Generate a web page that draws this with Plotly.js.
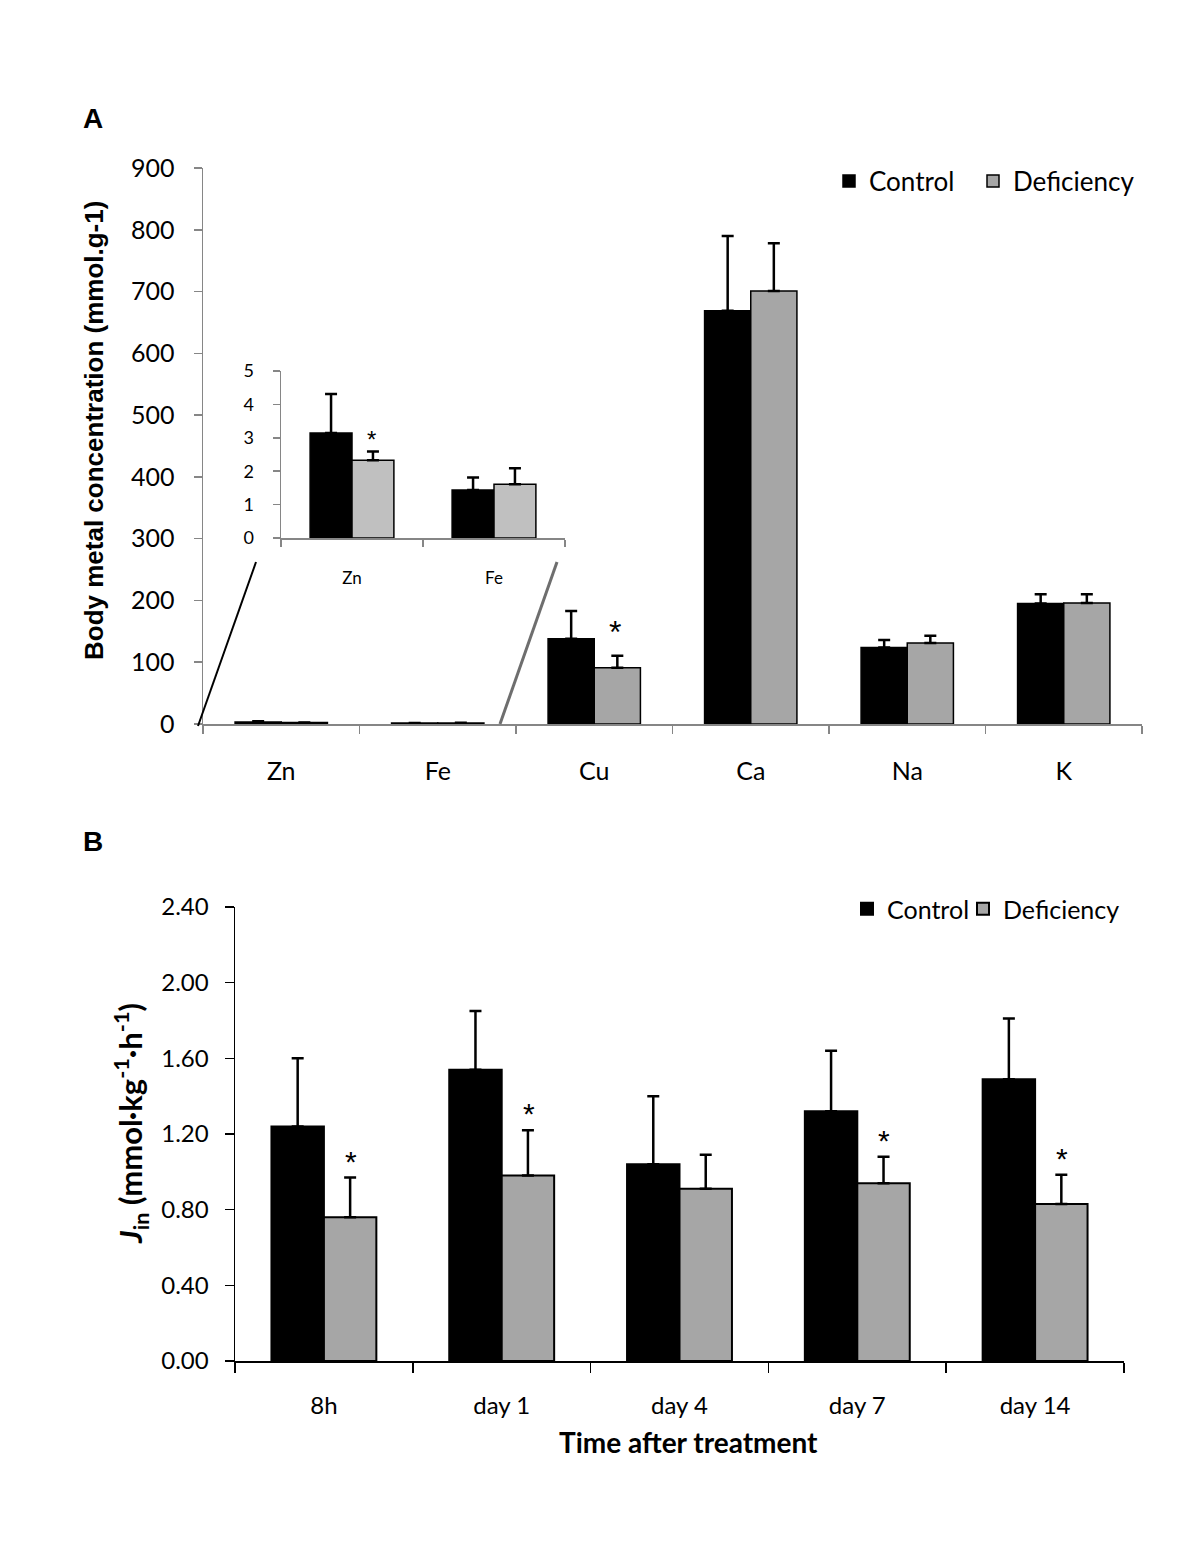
<!DOCTYPE html>
<html><head><meta charset="utf-8">
<script src="https://cdn.plot.ly/plotly-3.0.1.min.js"></script>
<style>html,body{margin:0;padding:0;background:#fff}#chart{width:1200px;height:1553px}</style>
</head><body><div id="chart"></div>
<script>
// ---------- Panel A data ----------
const elementsA = ['Zn', 'Fe', 'Cu', 'Ca', 'Na', 'K'];
const controlA = [3.14, 1.44, 138, 669, 124, 195];
const controlAErr = [1.17, 0.37, 45, 121, 12, 15];
const deficiencyA = [2.33, 1.61, 91, 701, 131, 196];
const deficiencyAErr = [0.26, 0.48, 19.5, 77, 12, 14];
const insetElements = ['Zn', 'Fe'];
const sigA = ['Cu'];
const sigInset = ['Zn'];

// ---------- Panel B data ----------
const timesB = ['8h', 'day 1', 'day 4', 'day 7', 'day 14'];
const controlB = [1.24, 1.54, 1.04, 1.32, 1.49];
const controlBErr = [0.36, 0.31, 0.36, 0.32, 0.32];
const deficiencyB = [0.76, 0.98, 0.91, 0.94, 0.83];
const deficiencyBErr = [0.21, 0.24, 0.18, 0.14, 0.155];
const sigB = ['8h', 'day 1', 'day 7', 'day 14'];

// ---------- helpers (layout only) ----------
const W = 1200, H = 1553;
const px = x => x / W;
const py = y => 1 - y / H;
const TXT = 'Lato, Carlito, "Open Sans", sans-serif';
const BOLD = '"Liberation Sans", Arial, sans-serif';
const STAR = '"Liberation Sans", Arial, sans-serif';
const BLACK = '#000000', GREY = '#a6a6a6', GREY_INSET = '#c0c0c0', AXGREY = '#868686';

const inset = (arr) => insetElements.map(e => arr[elementsA.indexOf(e)]);

function errBar(arr) {
  return {type: 'data', array: arr, symmetric: false, color: '#000', thickness: 2.5, width: 6, visible: true};
}

const traces = [
  // Panel A main
  {type: 'bar', name: 'Control', x: elementsA, y: controlA, error_y: errBar(controlAErr), legendwidth: 99,
   marker: {color: BLACK, line: {color: '#000', width: 1.5}}, xaxis: 'x', yaxis: 'y', legend: 'legend'},
  {type: 'bar', name: 'Deficiency', x: elementsA, y: deficiencyA, error_y: errBar(deficiencyAErr),
   marker: {color: GREY, line: {color: '#000', width: 1.5}}, xaxis: 'x', yaxis: 'y', legend: 'legend'},
  // Inset
  {type: 'bar', name: 'Control', x: insetElements, y: inset(controlA), error_y: errBar(inset(controlAErr)),
   marker: {color: BLACK, line: {color: '#000', width: 1.5}}, xaxis: 'x3', yaxis: 'y3', showlegend: false},
  {type: 'bar', name: 'Deficiency', x: insetElements, y: inset(deficiencyA), error_y: errBar(inset(deficiencyAErr)),
   marker: {color: GREY_INSET, line: {color: '#000', width: 1.5}}, xaxis: 'x3', yaxis: 'y3', showlegend: false},
  // Panel B
  {type: 'bar', name: 'Control', x: timesB, y: controlB, error_y: errBar(controlBErr), legendwidth: 71,
   marker: {color: BLACK, line: {color: '#000', width: 2}}, xaxis: 'x2', yaxis: 'y2', legend: 'legend2'},
  {type: 'bar', name: 'Deficiency', x: timesB, y: deficiencyB, error_y: errBar(deficiencyBErr),
   marker: {color: GREY, line: {color: '#000', width: 2}}, xaxis: 'x2', yaxis: 'y2', legend: 'legend2'}
];

const annotations = [
  {text: '<b>A</b>', x: px(93), y: py(119), xref: 'paper', yref: 'paper', showarrow: false,
   xanchor: 'center', yanchor: 'middle', font: {family: BOLD, size: 28, color: '#000'}},
  {text: '<b>B</b>', x: px(93), y: py(842), xref: 'paper', yref: 'paper', showarrow: false,
   xanchor: 'center', yanchor: 'middle', font: {family: BOLD, size: 28, color: '#000'}},
  {text: '<b>Body metal concentration (mmol.g-1)</b>', x: px(94), y: py(431), xref: 'paper', yref: 'paper',
   xanchor: 'center', yanchor: 'middle',
   textangle: -90, showarrow: false, font: {family: BOLD, size: 26, color: '#000'}},
  {text: '<b><i>J</i><sub>in</sub> (mmol·kg<sup>-1</sup>·h<sup>-1</sup>)</b>', x: px(131), y: py(1124), xref: 'paper', yref: 'paper',
   xanchor: 'center', yanchor: 'middle',
   textangle: -90, showarrow: false, font: {family: TXT, size: 31, color: '#000'}},
  {text: '<b>Time after treatment</b>', x: px(688), y: py(1442), xref: 'paper', yref: 'paper',
   xanchor: 'center', yanchor: 'middle', showarrow: false, font: {family: TXT, size: 28, color: '#000'}}
];

sigA.forEach(c => {
  const i = elementsA.indexOf(c);
  annotations.push({text: '*', x: c, y: deficiencyA[i] + deficiencyAErr[i], xref: 'x', yref: 'y',
    xshift: 21, yshift: 4, yanchor: 'bottom', showarrow: false, font: {family: STAR, size: 32, color: '#000'}});
});
sigInset.forEach(c => {
  const i = elementsA.indexOf(c);
  annotations.push({text: '*', x: c, y: deficiencyA[i] + deficiencyAErr[i], xref: 'x3', yref: 'y3',
    xshift: 19, yshift: -4, yanchor: 'bottom', showarrow: false, font: {family: STAR, size: 24, color: '#000'}});
});
sigB.forEach(c => {
  const i = timesB.indexOf(c);
  annotations.push({text: '*', x: c, y: deficiencyB[i] + deficiencyBErr[i], xref: 'x2', yref: 'y2',
    xshift: 27, yshift: -2, yanchor: 'bottom', showarrow: false, font: {family: STAR, size: 30, color: '#000'}});
});

const shapes = [
  {type: 'line', xref: 'paper', yref: 'paper', x0: px(198), y0: py(726), x1: px(256), y1: py(562),
   line: {color: '#000', width: 2}},
  {type: 'line', xref: 'paper', yref: 'paper', x0: px(500), y0: py(724), x1: px(557), y1: py(562),
   line: {color: '#6e6e6e', width: 3}}
];

const layout = {
  width: W, height: H,
  margin: {l: 0, r: 0, t: 0, b: 0},
  paper_bgcolor: '#fff', plot_bgcolor: 'rgba(0,0,0,0)',
  barmode: 'group', bargap: 0.41, bargroupgap: 0,
  font: {family: TXT, color: '#000'},
  xaxis: {domain: [px(203), px(1142)], anchor: 'y', type: 'category', tickson: 'boundaries',
    showline: true, linecolor: AXGREY, linewidth: 1.5, ticks: 'outside', ticklen: 8, tickcolor: AXGREY, tickwidth: 1.5,
    showgrid: false, zeroline: false, ticklabelstandoff: 24, tickfont: {family: TXT, size: 25, color: '#000'}},
  yaxis: {domain: [py(724), py(168)], anchor: 'x', range: [0, 900], dtick: 100,
    showline: true, linecolor: AXGREY, linewidth: 1.5, ticks: 'outside', ticklen: 8, tickcolor: AXGREY, tickwidth: 1.5,
    showgrid: false, zeroline: false, ticklabelstandoff: 14, tickfont: {family: TXT, size: 25, color: '#000'}},
  xaxis3: {domain: [px(281), px(565)], anchor: 'y3', type: 'category', tickson: 'boundaries',
    showline: true, linecolor: AXGREY, linewidth: 1.5, ticks: 'outside', ticklen: 7, tickcolor: AXGREY, tickwidth: 1.5,
    showgrid: false, zeroline: false, ticklabelstandoff: 24, tickfont: {family: TXT, size: 17, color: '#000'}},
  yaxis3: {domain: [py(538), py(371)], anchor: 'x3', range: [0, 5], dtick: 1,
    showline: true, linecolor: AXGREY, linewidth: 1.5, ticks: 'outside', ticklen: 7, tickcolor: AXGREY, tickwidth: 1.5,
    showgrid: false, zeroline: false, ticklabelstandoff: 15, tickfont: {family: TXT, size: 18, color: '#000'}},
  xaxis2: {domain: [px(235), px(1124)], anchor: 'y2', type: 'category', tickson: 'boundaries',
    showline: true, linecolor: '#000', linewidth: 1.5, ticks: 'outside', ticklen: 10, tickcolor: '#000', tickwidth: 1.5,
    showgrid: false, zeroline: false, ticklabelstandoff: 23, tickfont: {family: TXT, size: 24, color: '#000'}},
  yaxis2: {domain: [py(1361), py(907)], anchor: 'x2', range: [0, 2.4], dtick: 0.4, tickformat: '.2f',
    showline: true, linecolor: '#000', linewidth: 1.5, ticks: 'outside', ticklen: 9, tickcolor: '#000', tickwidth: 1.5,
    showgrid: false, zeroline: false, ticklabelstandoff: 11, tickfont: {family: TXT, size: 24, color: '#000'}},
  legend: {x: px(829), y: py(181), xanchor: 'left', yanchor: 'middle', orientation: 'h',
    font: {family: TXT, size: 26, color: '#000'}, bgcolor: 'rgba(0,0,0,0)', traceorder: 'normal', itemwidth: 30},
  legend2: {x: px(847), y: py(909), xanchor: 'left', yanchor: 'middle', orientation: 'h',
    font: {family: TXT, size: 25, color: '#000'}, bgcolor: 'rgba(0,0,0,0)', traceorder: 'normal', itemwidth: 30},
  annotations: annotations,
  shapes: shapes
};

Plotly.newPlot('chart', traces, layout, {displayModeBar: false, staticPlot: true});
</script>
</body></html>
